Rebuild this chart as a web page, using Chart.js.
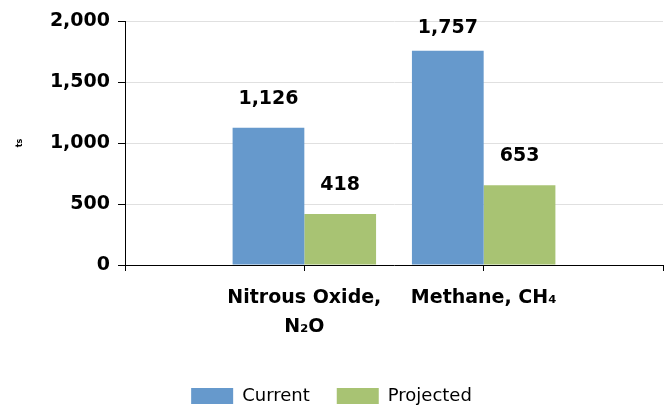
<!DOCTYPE html>
<html>
<head>
<meta charset="utf-8">
<script src="https://cdn.jsdelivr.net/npm/chart.js@4/dist/chart.umd.min.js"></script>
<style>
    html, body { margin: 0; padding: 0; background: #fff; }
    #wrap { width: 665px; height: 407px; }
</style>
</head>
<body>
<div id="wrap"><canvas id="gas-chart"></canvas></div>
<script>
// Chart data
const categories = ['', ['Nitrous Oxide,', 'N\u2082O'], 'Methane, CH\u2084', ''];
const currentValues = [null, 1126, 1757, null];
const projectedValues = [null, 418, 653, null];
const seriesNames = ['Current', 'Projected'];

// Value labels above each bar
const valueLabels = {
    id: 'valueLabels',
    afterDatasetsDraw(chart) {
        const ctx = chart.ctx;
        ctx.save();
        ctx.font = 'bold 19px "DejaVu Sans"';
        ctx.fillStyle = '#000';
        ctx.textAlign = 'center';
        ctx.textBaseline = 'middle';
        chart.data.datasets.forEach((ds, i) => {
            chart.getDatasetMeta(i).data.forEach((bar, j) => {
                const v = ds.data[j];
                if (v === null) return;
                const y = Math.max(bar.y - 29, chart.chartArea.top + 7);
                ctx.fillText(v.toLocaleString('en-US'), bar.x, y);
            });
        });
        ctx.restore();
    }
};

const ctx = document.getElementById('gas-chart').getContext('2d');
new Chart(ctx, {
    type: 'bar',
    data: {
        labels: categories,
        datasets: [{
            label: seriesNames[0],
            data: currentValues,
            backgroundColor: '#6699cc',
            categoryPercentage: 0.8,
            barPercentage: 1.0
        }, {
            label: seriesNames[1],
            data: projectedValues,
            backgroundColor: '#a8c373',
            categoryPercentage: 0.8,
            barPercentage: 1.0
        }]
    },
    options: {
        responsive: true,
        maintainAspectRatio: false,
        animation: false,
        layout: { padding: { top: 21, right: 2, left: 0, bottom: -8 } },
        scales: {
            x: {
                offset: false,
                grid: {
                    offset: false,
                    drawOnChartArea: false,
                    drawTicks: true,
                    tickLength: 6,
                    tickColor: '#000'
                },
                border: { color: '#000', width: 1 },
                ticks: {
                    color: '#000',
                    maxRotation: 0,
                    autoSkip: false,
                    padding: 13,
                    font: { family: 'DejaVu Sans', size: 19, weight: 'bold', lineHeight: 1.5 }
                },
                afterFit(scale) {
                    scale.height = 95;
                    scale.paddingLeft = 0;
                    scale.paddingRight = 0;
                }
            },
            y: {
                min: 0,
                max: 2000,
                ticks: {
                    stepSize: 500,
                    color: '#000',
                    padding: 8,
                    font: { family: 'DejaVu Sans', size: 19, weight: 'bold' },
                    callback: v => v.toLocaleString('en-US')
                },
                grid: {
                    color: '#e0e0e0',
                    tickColor: '#000',
                    tickLength: 7
                },
                border: { color: '#000', width: 1 },
                title: {
                    display: true,
                    text: 'ts',
                    color: '#000',
                    font: { family: 'DejaVu Sans', size: 8, weight: 'bold' },
                    padding: { top: 15, bottom: 0 }
                },
                afterFit(scale) { scale.width = 125; }
            }
        },
        plugins: {
            legend: {
                position: 'bottom',
                labels: {
                    boxWidth: 42,
                    boxHeight: 16,
                    padding: 27,
                    color: '#000',
                    font: { family: 'DejaVu Sans', size: 18 }
                }
            },
            tooltip: { enabled: false }
        }
    },
    plugins: [valueLabels]
});
</script>
</body>
</html>
